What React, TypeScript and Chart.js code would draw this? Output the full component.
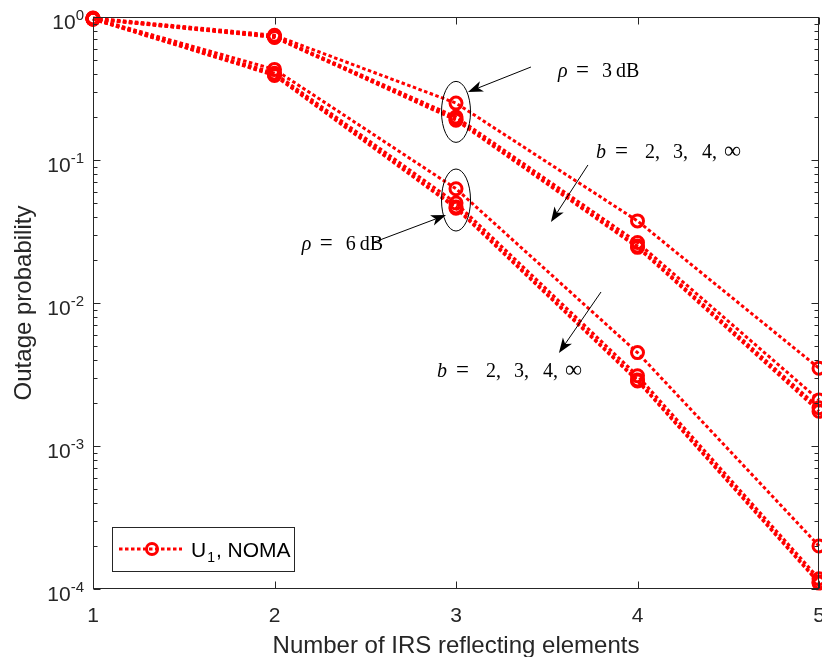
import React, { useEffect, useRef } from 'react';
import { Chart, registerables } from 'chart.js';

Chart.register(...registerables);

// ---- data ----
const xElements = [1, 2, 3, 4, 5];
const xTickLabels = ['1', '2', '3', '4', '5'];
const yTickExponents = [0, -1, -2, -3, -4];

const rho3_b2 = [0.985, 0.745, 0.25, 0.0375, 0.0035];
const rho3_b3 = [0.975, 0.73, 0.2, 0.0265, 0.0021];
const rho3_b4 = [0.97, 0.725, 0.193, 0.025, 0.00185];
const rho3_bInf = [0.968, 0.72, 0.19, 0.0245, 0.00175];

const rho6_b2 = [0.98, 0.43, 0.063, 0.0045, 0.0002];
const rho6_b3 = [0.972, 0.405, 0.05, 0.0031, 0.000118];
const rho6_b4 = [0.968, 0.395, 0.047, 0.0029, 0.000112];
const rho6_bInf = [0.965, 0.39, 0.046, 0.00285, 0.00011];

const seriesLabels = [
  'ρ = 3 dB, b = 2', 'ρ = 3 dB, b = 3', 'ρ = 3 dB, b = 4', 'ρ = 3 dB, b = ∞',
  'ρ = 6 dB, b = 2', 'ρ = 6 dB, b = 3', 'ρ = 6 dB, b = 4', 'ρ = 6 dB, b = ∞',
];

const xTitle = 'Number of IRS reflecting elements';
const yTitle = 'Outage probability';

const RED = '#ff0000';
const AX = '#262626';
const SANS = '"Liberation Sans", Arial, Helvetica, sans-serif';
const SERIF = '"Liberation Serif", "Times New Roman", serif';
const DASH = [3.5, 2.5];

function arrow(ctx: CanvasRenderingContext2D, tx: number, ty: number, hx: number, hy: number) {
  const dx = hx - tx, dy = hy - ty;
  const len = Math.hypot(dx, dy);
  const ux = dx / len, uy = dy / len;
  const nx = -uy, ny = ux;
  const L = 15, W = 5.5, N = 4;
  ctx.save();
  ctx.strokeStyle = '#000';
  ctx.fillStyle = '#000';
  ctx.lineWidth = 1;
  ctx.beginPath();
  ctx.moveTo(tx, ty);
  ctx.lineTo(hx - (L - N) * ux, hy - (L - N) * uy);
  ctx.stroke();
  ctx.beginPath();
  ctx.moveTo(hx, hy);
  ctx.lineTo(hx - L * ux + W * nx, hy - L * uy + W * ny);
  ctx.lineTo(hx - (L - N) * ux, hy - (L - N) * uy);
  ctx.lineTo(hx - L * ux - W * nx, hy - L * uy - W * ny);
  ctx.closePath();
  ctx.fill();
  ctx.restore();
}

type Tok = [string, number, boolean, number?];
function tokens(ctx: CanvasRenderingContext2D, x0: number, base: number, toks: Tok[]) {
  ctx.save();
  ctx.fillStyle = '#000';
  ctx.textBaseline = 'alphabetic';
  ctx.textAlign = 'left';
  for (const [t, off, it, sz] of toks) {
    ctx.font = `${it ? 'italic ' : ''}${sz || 20}px ${SERIF}`;
    ctx.fillText(t, x0 + off, base);
  }
  ctx.restore();
}

const rhoTokens = (v: string): Tok[] => [
  ['ρ', 0, true], ['=', 18, false, 23], [v, 44, false], ['dB', 58, false],
];
const bTokens: Tok[] = [
  ['b', 0, true], ['=', 19, false, 23], ['2,', 49, false], ['3,', 77, false],
  ['4,', 106, false], ['∞', 128, false, 24],
];

const decor = {
  id: 'matlabDecor',
  afterDraw(chart: any) {
    const { ctx, chartArea: a, scales } = chart;
    const xs = scales.x, ys = scales.y;
    const P = (xv: number, yv: number) => [xs.getPixelForValue(xv), ys.getPixelForValue(yv)];
    ctx.save();
    // box
    ctx.strokeStyle = AX;
    ctx.lineWidth = 1;
    const L = Math.round(a.left) + 0.5, R = Math.round(a.right) - 0.5;
    const T = Math.round(a.top) + 0.5, B = Math.round(a.bottom) - 0.5;
    ctx.strokeRect(L, T, R - L, B - T);
    ctx.beginPath();
    for (const v of xElements) {
      const px = Math.round(xs.getPixelForValue(v)) + 0.5;
      ctx.moveTo(px, B); ctx.lineTo(px, B - 7);
      ctx.moveTo(px, T); ctx.lineTo(px, T + 7);
    }
    for (const e of yTickExponents) {
      const py = Math.round(ys.getPixelForValue(Math.pow(10, e))) + 0.5;
      ctx.moveTo(L, py); ctx.lineTo(L + 7, py);
      ctx.moveTo(R, py); ctx.lineTo(R - 7, py);
      if (e < 0) {
        for (let m = 2; m <= 9; m++) {
          const q = Math.round(ys.getPixelForValue(m * Math.pow(10, e))) + 0.5;
          ctx.moveTo(L, q); ctx.lineTo(L + 4, q);
          ctx.moveTo(R, q); ctx.lineTo(R - 4, q);
        }
      }
    }
    ctx.stroke();
    ctx.fillStyle = AX;
    // x tick labels
    ctx.font = `21px ${SANS}`;
    ctx.textAlign = 'center';
    ctx.textBaseline = 'alphabetic';
    xElements.forEach((v, i) => {
      ctx.fillText(xTickLabels[i], xs.getPixelForValue(v), a.bottom + 33);
    });
    // titles
    ctx.font = `24px ${SANS}`;
    ctx.fillText(xTitle, (a.left + a.right) / 2, a.bottom + 64);
    ctx.save();
    ctx.translate(31, (a.top + a.bottom) / 2);
    ctx.rotate(-Math.PI / 2);
    ctx.fillText(yTitle, 0, 0);
    ctx.restore();
    // y tick labels 10^e
    ctx.textAlign = 'left';
    for (const e of yTickExponents) {
      const py = ys.getPixelForValue(Math.pow(10, e));
      const sup = e === 0 ? '0' : '-' + String(-e);
      ctx.font = `15px ${SANS}`;
      const ws = ctx.measureText(sup).width;
      ctx.font = `21px ${SANS}`;
      const w10 = ctx.measureText('10').width;
      const right = a.left - 9;
      ctx.fillText('10', right - ws - w10, py + 12);
      ctx.font = `15px ${SANS}`;
      ctx.fillText(sup, right - ws, py + 3);
    }
    // legend
    const lx = a.left + 19, ly = a.bottom - 62, lw = 182, lh = 44;
    ctx.fillStyle = '#fff';
    ctx.fillRect(lx, ly, lw, lh);
    ctx.strokeStyle = AX;
    ctx.strokeRect(lx + 0.5, ly + 0.5, lw, lh);
    const my = ly + 22;
    ctx.strokeStyle = RED;
    ctx.lineWidth = 3;
    ctx.setLineDash(DASH);
    ctx.beginPath();
    ctx.moveTo(lx + 7, my); ctx.lineTo(lx + 70, my);
    ctx.stroke();
    ctx.setLineDash([]);
    ctx.lineWidth = 3;
    ctx.beginPath();
    ctx.arc(lx + 40, my, 5.5, 0, Math.PI * 2);
    ctx.stroke();
    ctx.fillStyle = '#000';
    ctx.font = `21px ${SANS}`;
    ctx.fillText('U', lx + 79, my + 8);
    const wu = ctx.measureText('U').width;
    ctx.font = `14px ${SANS}`;
    ctx.fillText('1', lx + 79 + wu + 1, my + 13);
    const w1 = ctx.measureText('1').width;
    ctx.font = `21px ${SANS}`;
    ctx.fillText(', NOMA', lx + 79 + wu + w1 + 2, my + 8);

    // annotations
    ctx.strokeStyle = '#000';
    ctx.lineWidth = 1;
    const [e1x, e1y] = P(3, 0.217);
    ctx.beginPath(); ctx.ellipse(e1x, e1y, 14.5, 30.5, 0, 0, Math.PI * 2); ctx.stroke();
    const [e2x, e2y] = P(3, 0.0525);
    ctx.beginPath(); ctx.ellipse(e2x, e2y, 14.5, 31, 0, 0, Math.PI * 2); ctx.stroke();

    let t = P(3.413, 0.447), h = P(3.066, 0.299);
    arrow(ctx, t[0], t[1], h[0], h[1]);
    t = P(2.537, 0.0263); h = P(2.945, 0.0412);
    arrow(ctx, t[0], t[1], h[0], h[1]);
    t = P(3.727, 0.0923); h = P(3.523, 0.0368);
    arrow(ctx, t[0], t[1], h[0], h[1]);
    t = P(3.799, 0.01194); h = P(3.567, 0.00447);
    arrow(ctx, t[0], t[1], h[0], h[1]);

    let p = P(3.562, 0.3805);
    tokens(ctx, p[0], p[1], rhoTokens('3'));
    p = P(2.15, 0.0235);
    tokens(ctx, p[0], p[1], rhoTokens('6'));
    p = P(3.771, 0.1033);
    tokens(ctx, p[0], p[1], bTokens);
    p = P(2.895, 0.00304);
    tokens(ctx, p[0], p[1], bTokens);
    ctx.restore();
  },
};

export default function App() {
  const ref = useRef<HTMLCanvasElement>(null);
  useEffect(() => {
    document.body.style.margin = '0';
    const canvas = ref.current!;
    const all = [rho3_b2, rho3_b3, rho3_b4, rho3_bInf, rho6_b2, rho6_b3, rho6_b4, rho6_bInf];
    const datasets = all.map((arr, i) => ({
      label: seriesLabels[i],
      data: arr.map((v, j) => ({ x: xElements[j], y: v })),
      borderColor: RED,
      borderWidth: 3,
      borderDash: DASH,
      borderCapStyle: 'butt' as const,
      pointRadius: 6,
      pointBorderWidth: 3,
      pointBorderColor: RED,
      pointBackgroundColor: 'rgba(255,255,255,0)',
      pointStyle: 'circle' as const,
      fill: false,
      tension: 0,
      clip: false as any,
    }));
    const chart = new Chart(canvas, {
      type: 'line',
      data: { datasets },
      options: {
        responsive: false,
        animation: false,
        devicePixelRatio: 1,
        layout: { autoPadding: false, padding: { top: 17, right: 3, left: 0, bottom: 0 } },
        plugins: { legend: { display: false }, tooltip: { enabled: false } },
        scales: {
          x: {
            type: 'linear',
            min: 1,
            max: 5,
            ticks: { display: false, stepSize: 1 },
            grid: { display: false, drawTicks: false },
            border: { display: false },
            title: { display: false },
            afterFit: (s: any) => {
              s.height = 68;
              s.paddingLeft = 0;
              s.paddingRight = 0;
            },
          },
          y: {
            type: 'logarithmic',
            min: 1e-4,
            max: 1,
            ticks: { display: false },
            grid: { display: false, drawTicks: false },
            border: { display: false },
            title: { display: false },
            afterFit: (s: any) => {
              s.width = 93;
            },
          },
        },
      },
      plugins: [decor],
    });
    return () => chart.destroy();
  }, []);
  return (
    <div style={{ width: 822, height: 657 }}>
      <canvas ref={ref} width={822} height={657} style={{ display: 'block' }} />
    </div>
  );
}
